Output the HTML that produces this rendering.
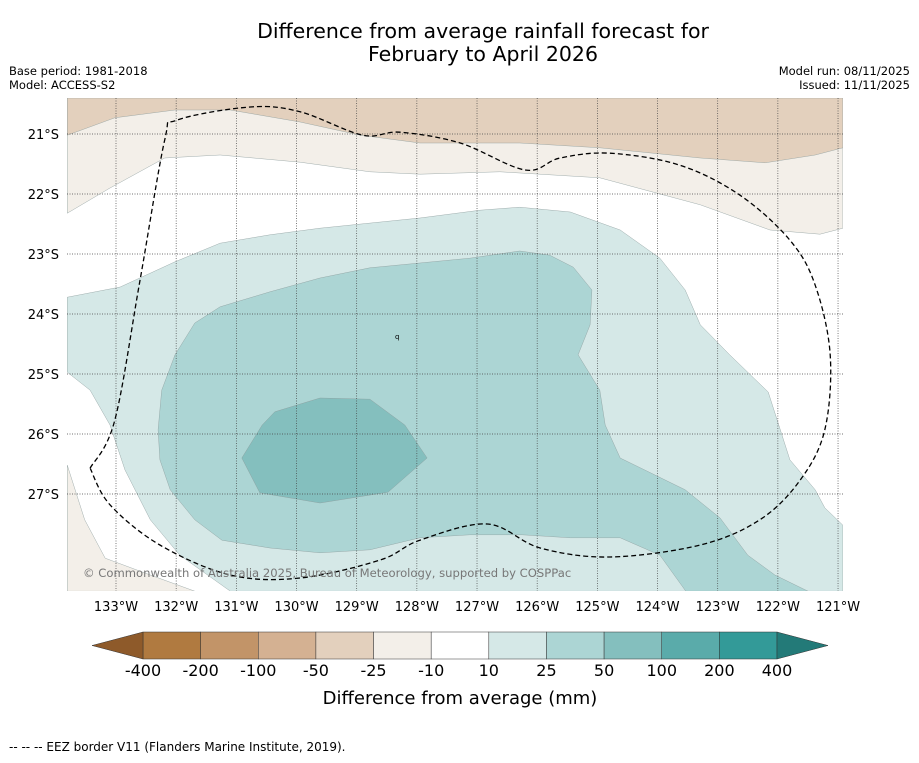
<!DOCTYPE html>
<html><head><meta charset="utf-8">
<style>
body{margin:0;background:#fff;font-family:"Liberation Sans","DejaVu Sans",sans-serif;}
svg text{font-family:"DejaVu Sans","Liberation Sans",sans-serif;}
</style></head>
<body>
<svg id="chart" width="919" height="758" viewBox="0 0 919 758" xmlns="http://www.w3.org/2000/svg">
<text x="483" y="38" font-size="20.5" text-anchor="middle">Difference from average rainfall forecast for</text>
<text x="483" y="61" font-size="20.5" text-anchor="middle">February to April 2026</text>
<text x="9" y="75" font-size="11.5">Base period: 1981-2018</text>
<text x="9" y="89" font-size="11.5">Model: ACCESS-S2</text>
<text x="910" y="75" font-size="11.5" text-anchor="end">Model run: 08/11/2025</text>
<text x="910" y="89" font-size="11.5" text-anchor="end">Issued: 11/11/2025</text>
<defs><clipPath id="mapclip"><rect x="67" y="98" width="776" height="493"/></clipPath></defs>
<g id="map" clip-path="url(#mapclip)"></g>
<g id="axes"></g>
<g id="cbar"></g>
<text x="460" y="704" font-size="18" text-anchor="middle">Difference from average (mm)</text>
<text x="9" y="751" font-size="12">--  --  -- EEZ border V11 (Flanders Marine Institute, 2019).</text>
</svg>
<script>
const lonTicks=[-133,-132,-131,-130,-129,-128,-127,-126,-125,-124,-123,-122,-121];
const latTicks=[-21,-22,-23,-24,-25,-26,-27];
const levelLabels=["-400","-200","-100","-50","-25","-10","10","25","50","100","200","400"];
const binColors=["#b07a40","#c29468","#d4b192","#e3d0bd","#f3efe9","#ffffff","#d5e8e7","#acd5d4","#84bfbe","#5aabaa","#339a98"];
const lightBrown=[[-133.81,-20.4],[-120.92,-20.4],[-120.92,-22.57],[-121.3,-22.67],[-122.13,-22.6],[-123.29,-22.18],[-124.96,-21.73],[-126.62,-21.63],[-127.95,-21.67],[-128.78,-21.63],[-129.94,-21.47],[-131.27,-21.35],[-132.19,-21.4],[-133.1,-21.9],[-133.81,-22.32]];
const darkBrown=[[-133.81,-20.4],[-120.92,-20.4],[-120.92,-21.23],[-121.38,-21.35],[-122.21,-21.48],[-123.29,-21.4],[-124.96,-21.23],[-126.29,-21.15],[-127.95,-21.15],[-128.94,-21.02],[-129.94,-20.8],[-131.1,-20.6],[-132.02,-20.6],[-133.02,-20.73],[-133.81,-21.02]];
const bottomBeige=[[-133.81,-26.52],[-133.52,-27.43],[-133.18,-28.07],[-132.43,-28.35],[-131.69,-28.62],[-133.81,-28.62]];
const green10=[[-133.81,-23.72],[-132.93,-23.55],[-132.02,-23.13],[-131.27,-22.82],[-130.44,-22.68],[-129.61,-22.57],[-127.95,-22.4],[-126.95,-22.27],[-126.29,-22.22],[-125.45,-22.3],[-124.62,-22.6],[-123.96,-23.07],[-123.54,-23.6],[-123.29,-24.18],[-122.8,-24.68],[-122.16,-25.3],[-121.8,-26.43],[-121.38,-26.93],[-121.22,-27.23],[-120.92,-27.52],[-120.92,-28.62],[-131.1,-28.62],[-131.94,-28.02],[-132.43,-27.43],[-132.85,-26.6],[-133.1,-25.85],[-133.43,-25.27],[-133.81,-24.97]];
const green25=[[-132.02,-24.68],[-131.69,-24.15],[-131.27,-23.88],[-130.44,-23.63],[-129.61,-23.4],[-128.78,-23.23],[-127.12,-23.07],[-126.29,-22.95],[-125.79,-23.02],[-125.4,-23.22],[-125.09,-23.6],[-125.12,-24.18],[-125.32,-24.68],[-124.96,-25.27],[-124.87,-25.85],[-124.62,-26.4],[-123.54,-26.93],[-122.96,-27.4],[-122.5,-28.02],[-122.05,-28.35],[-121.5,-28.62],[-123.53,-28.62],[-123.96,-28.02],[-124.62,-27.73],[-125.45,-27.73],[-126.25,-27.68],[-127.12,-27.68],[-127.95,-27.73],[-128.78,-27.93],[-129.61,-27.98],[-130.44,-27.9],[-131.24,-27.77],[-131.69,-27.43],[-132.1,-26.93],[-132.27,-26.43],[-132.3,-25.93],[-132.24,-25.27]];
const green50=[[-130.91,-26.4],[-130.57,-25.85],[-130.36,-25.63],[-129.61,-25.4],[-128.78,-25.42],[-128.2,-25.85],[-127.83,-26.4],[-128.48,-26.97],[-129.61,-27.15],[-130.61,-26.98]];
const eez=[[-133.43,-26.57],[-133.02,-25.77],[-132.6,-23.43],[-132.19,-21.1],[-131.99,-20.77],[-130.77,-20.55],[-129.94,-20.63],[-128.9,-21.02],[-128.28,-20.97],[-127.28,-21.15],[-126.2,-21.6],[-125.62,-21.4],[-124.79,-21.32],[-123.63,-21.52],[-122.63,-22.02],[-121.8,-22.77],[-121.38,-23.52],[-121.13,-24.68],[-121.22,-25.93],[-121.63,-26.77],[-122.3,-27.43],[-123.29,-27.85],[-124.79,-28.05],[-125.95,-27.9],[-126.83,-27.5],[-127.95,-27.77],[-128.61,-28.1],[-129.94,-28.4],[-131.1,-28.35],[-132.27,-27.85],[-133.1,-27.18],[-133.43,-26.57]];

const NS="http://www.w3.org/2000/svg";
function xS(lon){return 116+(lon+133)*60.17;}
function yS(lat){return 134+(-21-lat)*60;}
function mk(tag,attrs,parent){const e=document.createElementNS(NS,tag);for(const k in attrs)e.setAttribute(k,attrs[k]);parent.appendChild(e);return e;}
function pts(a){return a.map(p=>xS(p[0]).toFixed(1)+","+yS(p[1]).toFixed(1)).join(" ");}
function smooth(a){
 const P=a.map(p=>[xS(p[0]),yS(p[1])]);
 let d="M"+P[0][0].toFixed(1)+","+P[0][1].toFixed(1);
 for(let i=0;i<P.length-1;i++){
  const p0=P[Math.max(i-1,0)],p1=P[i],p2=P[i+1],p3=P[Math.min(i+2,P.length-1)];
  const c1=[p1[0]+(p2[0]-p0[0])/6,p1[1]+(p2[1]-p0[1])/6];
  const c2=[p2[0]-(p3[0]-p1[0])/6,p2[1]-(p3[1]-p1[1])/6];
  d+=" C"+c1[0].toFixed(1)+","+c1[1].toFixed(1)+" "+c2[0].toFixed(1)+","+c2[1].toFixed(1)+" "+p2[0].toFixed(1)+","+p2[1].toFixed(1);
 }
 return d;
}
const map=document.getElementById("map");
const axes=document.getElementById("axes");
const layers=[[lightBrown,"#f3efe9","light-brown-region"],[darkBrown,"#e3d0bd","dark-brown-region"],[bottomBeige,"#f3efe9","bottom-beige-region"],[green10,"#d5e8e7","green-10-25-region"],[green25,"#acd5d4","green-25-50-region"],[green50,"#84bfbe","green-50-100-region"]];
layers.forEach(l=>{
 const p=mk("polygon",{points:pts(l[0]),fill:l[1],stroke:"#8a9a9a","stroke-width":"0.4"},map);
 
 
});
lonTicks.forEach(v=>{
 const g=mk("line",{x1:xS(v),x2:xS(v),y1:98,y2:591,stroke:"#444","stroke-width":"0.7","stroke-dasharray":"1,1.5"},map);
 
 
 const t=mk("text",{x:xS(v),y:611,"font-size":"13","text-anchor":"middle"},axes);
 t.textContent=Math.abs(v)+"°W";
 
 
});
latTicks.forEach(v=>{
 const g=mk("line",{x1:67,x2:843,y1:yS(v),y2:yS(v),stroke:"#444","stroke-width":"0.7","stroke-dasharray":"1,1.5"},map);
 
 
 const t=mk("text",{x:59,y:yS(v)+5,"font-size":"13","text-anchor":"end"},axes);
 t.textContent=Math.abs(v)+"°S";
 
 
});
const ez=mk("path",{d:smooth(eez),fill:"none",stroke:"#000","stroke-width":"1.3","stroke-dasharray":"5,3"},map);


const q=mk("text",{x:395,y:339,"font-size":"7"},map);q.textContent="q";


const cr=mk("text",{x:83,y:577,"font-size":"11.6",fill:"#777"},map);
cr.textContent="© Commonwealth of Australia 2025, Bureau of Meteorology, supported by COSPPac";


const cb=document.getElementById("cbar");
const bx0=143,bx1=777,by0=632,by1=659,n=binColors.length,bw=(bx1-bx0)/n;
binColors.forEach((c,i)=>{
 const r=mk("rect",{x:bx0+i*bw,y:by0,width:bw,height:by1-by0,fill:c,stroke:"#333","stroke-width":"0.5"},cb);
 
 
});
const lt=mk("polygon",{points:`${bx0},${by0} ${bx0},${by1} 92,645.5`,fill:"#8e5a2a",stroke:"#333","stroke-width":"0.5"},cb);


const rt=mk("polygon",{points:`${bx1},${by0} ${bx1},${by1} 828,645.5`,fill:"#237a78",stroke:"#333","stroke-width":"0.5"},cb);


levelLabels.forEach((s,i)=>{
 const t=mk("text",{x:bx0+i*bw,y:676,"font-size":"16","text-anchor":"middle"},cb);
 t.textContent=s;
 
 
});
</script>
</body></html>
